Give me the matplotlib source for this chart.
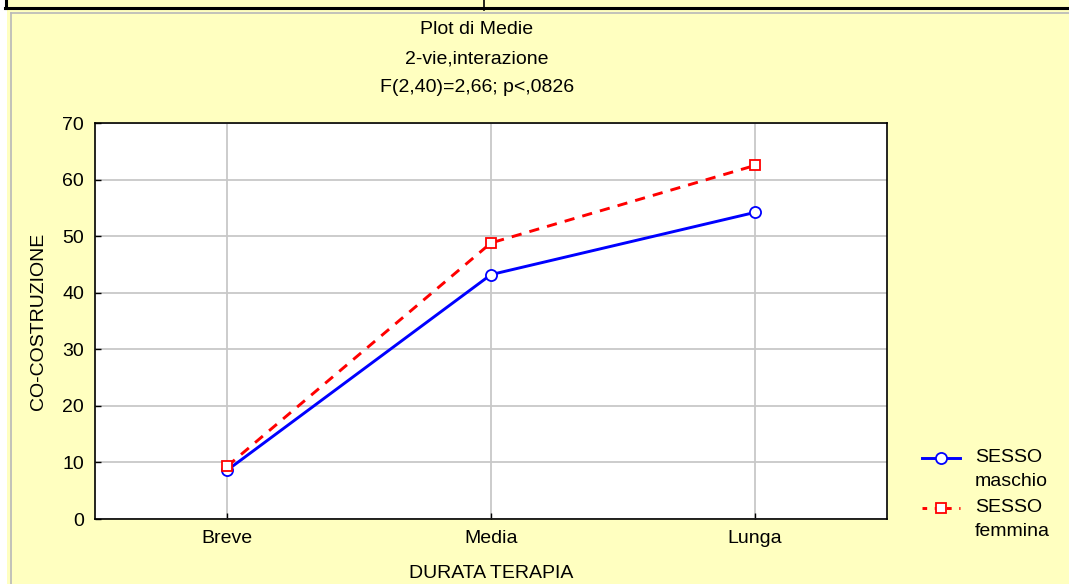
import matplotlib
matplotlib.use("Agg")
import matplotlib.pyplot as plt
from matplotlib.lines import Line2D
from matplotlib.patches import Rectangle

categories = ["Breve", "Media", "Lunga"]
maschio = [8.6, 43.2, 54.2]
femmina = [9.3, 48.8, 62.5]
yticks = [0, 10, 20, 30, 40, 50, 60, 70]
series_labels = [("SESSO", "maschio"), ("SESSO", "femmina")]

plt.rcParams['font.family'] = ['Liberation Sans', 'DejaVu Sans']
FS = 14

W, H = 1069, 584
fig = plt.figure(figsize=(W / 100, H / 100), dpi=100)
fig.patch.set_facecolor('white')
bg = '#FFFFC0'

def fx(px):
    return px / W

def fy(py):
    return 1 - py / H

# background panel
fig.patches.append(Rectangle((fx(7), 0), 1, 1, transform=fig.transFigure,
                             facecolor=bg, edgecolor='none', zorder=-10))
# black top border line and tick
fig.add_artist(Line2D([fx(5), 1], [fy(7.5), fy(7.5)], transform=fig.transFigure,
                      color='black', lw=2.2))
fig.add_artist(Line2D([fx(6), fx(6)], [fy(0), fy(8)], transform=fig.transFigure,
                      color='black', lw=2.2))
fig.add_artist(Line2D([fx(484), fx(484)], [fy(0), fy(10)], transform=fig.transFigure,
                      color='black', lw=1.2))
# gray inner panel border
fig.add_artist(Line2D([fx(10.5), 1], [fy(12.5), fy(12.5)], transform=fig.transFigure,
                      color='#B8B8B8', lw=1.2))
fig.add_artist(Line2D([fx(10.5), fx(10.5)], [fy(12.5), 0], transform=fig.transFigure,
                      color='#B8B8B8', lw=1.2))

left, right, top, bottom = 95, 887, 123, 519
ax = fig.add_axes([fx(left), fy(bottom), fx(right - left), (bottom - top) / H])
ax.set_facecolor('white')

blue_style = dict(color='#0000FF', lw=2.1, marker='o', markersize=8,
                  markerfacecolor='white', markeredgecolor='#0000FF', markeredgewidth=1.3)
red_style = dict(color='#FF0000', lw=2.1, ls=(0, (3.5, 2.8)), marker='s', markersize=7.8,
                 markerfacecolor='white', markeredgecolor='#FF0000', markeredgewidth=1.3)

x = list(range(len(categories)))
ax.plot(x, maschio, zorder=3, **blue_style)
ax.plot(x, femmina, zorder=4, **red_style)

ax.set_xlim(-0.5, 2.5)
ax.set_ylim(0, 70)
ax.set_xticks(x)
ax.set_xticklabels(categories, fontsize=FS)
ax.set_yticks(yticks)
ax.set_yticklabels([str(v) for v in yticks], fontsize=FS)
ax.grid(True, color='#C8C8C8', lw=1.3, zorder=0)
ax.set_axisbelow(True)
for s in ax.spines.values():
    s.set_color('black')
    s.set_linewidth(1.2)
ax.tick_params(axis='y', direction='in', length=4, width=1, pad=8)
ax.tick_params(axis='x', direction='in', length=4, width=1, pad=8)

ax.set_ylabel('CO-COSTRUZIONE', fontsize=FS, labelpad=11)
ax.set_xlabel('DURATA TERAPIA', fontsize=FS, labelpad=13)

cx = fx(477)
fig.text(cx, fy(30), 'Plot di Medie', ha='center', va='center', fontsize=FS)
fig.text(cx, fy(59), '2-vie,interazione', ha='center', va='center', fontsize=FS)
fig.text(cx, fy(88), 'F(2,40)=2,66; p<,0826', ha='center', va='center', fontsize=FS)

# legend drawn manually (handle aligned with the first label line)
for (l1, l2), style, yy in zip(series_labels, [blue_style, red_style], [458, 508]):
    st = dict(style)
    if 'ls' in st:
        st['ls'] = (0, (1.6, 2.6))
    fig.add_artist(Line2D([fx(922), fx(941), fx(960)], [fy(yy)] * 3,
                          transform=fig.transFigure, markevery=[1], **st))
    fig.text(fx(975), fy(yy), l1, ha='left', va='center', fontsize=FS)
    fig.text(fx(975), fy(yy + 23), l2, ha='left', va='center', fontsize=FS)

fig.savefig('out.png', dpi=100, facecolor=fig.get_facecolor())
